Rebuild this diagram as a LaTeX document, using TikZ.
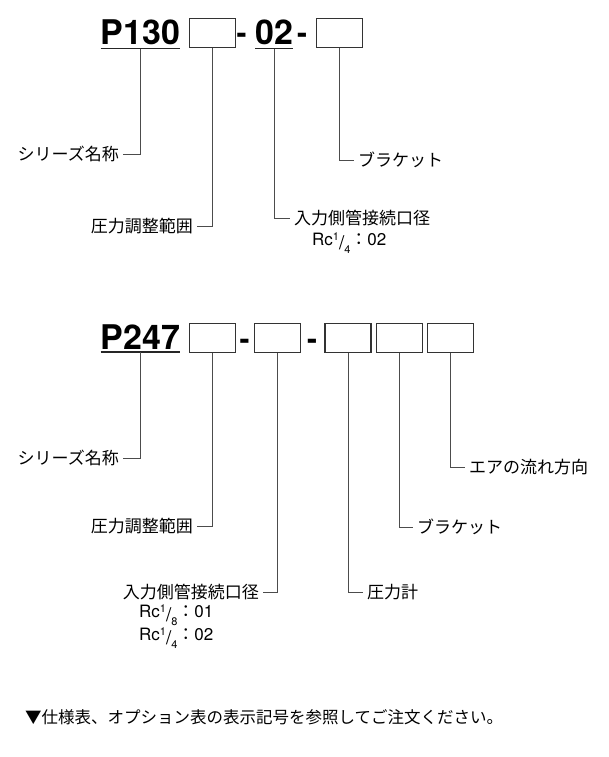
\documentclass[tikz,border=0pt]{standalone}
\usepackage{fontspec}
\setmainfont{TeX Gyre Heros}
\newfontfamily\jp{Noto Sans CJK JP}
\newcommand{\myfrac}[2]{{\fontsize{11}{11}\selectfont\raisebox{5pt}{#1}}\raisebox{-4pt}{\fontsize{19}{19}\selectfont/}{\fontsize{11}{11}\selectfont\raisebox{-8pt}{#2}}}
\tikzset{
  code/.style={font=\fontsize{34}{34}\selectfont\bfseries, inner xsep=0pt, inner ysep=3pt, anchor=base west},
  uline/.style={line width=1.5pt, draw=black!85},
  slot/.style={draw=black!80, line width=1.2pt, minimum width=46pt, minimum height=29pt, inner sep=0pt},
  hyph/.style={font=\fontsize{30}{30}\selectfont\bfseries, inner sep=0pt, anchor=base},
  lbl/.style={font=\jp\fontsize{17}{17}\selectfont, inner xsep=4pt, inner ysep=0pt},
  rc/.style={font=\fontsize{17}{17}\selectfont, inner sep=0pt, anchor=base west},
  conn/.style={draw=black!70, line width=0.9pt},
}
\begin{document}
\begin{tikzpicture}[x=1pt,y=-1pt]
\fill[white] (0,0) rectangle (608,757);
\useasboundingbox (0,0) rectangle (608,757);

% ---------- top row ----------
\node[code] (p130) at (100.5,45) {P130};
\draw[uline] (p130.south west) -- (p130.south east);
\node[slot] (t1) at (212.5,33) {};
\node[hyph] (td1) at (241.5,44) {-};
\node[code] (t02) at (255,45) {02};
\draw[uline] (t02.south west) -- (t02.south east);
\node[hyph] (td2) at (302,44) {-};
\node[slot] (t2) at (339.5,33) {};

\node[lbl, anchor=east] (tsr) at (123,154) {シリーズ名称};
\node[lbl, anchor=east] (tpr) at (197,226) {圧力調整範囲};
\node[lbl, anchor=west] (tin) at (290,218) {入力側管接続口径};
\node[rc] (trc) at (312,245) {Rc\myfrac{1}{4}{\jp：}02};
\node[lbl, anchor=west] (tbr) at (354,160) {ブラケット};

\draw[conn] (p130.south) |- (tsr.east);
\draw[conn] (t1.south) |- (tpr.east);
\draw[conn] (t02.south) |- (tin.west);
\draw[conn] (t2.south) |- (tbr.west);

% ---------- bottom row ----------
\node[code] (p247) at (100.5,349) {P247};
\draw[uline] (p247.south west) -- (p247.south east);
\node[slot] (b1) at (212.5,338) {};
\node[hyph] (bd1) at (244.5,349) {-};
\node[slot] (b2) at (277.5,338) {};
\node[hyph] (bd2) at (312,349) {-};
\node[slot] (b3) at (348,338) {};
\node[slot] (b4) at (399.5,338) {};
\node[slot] (b5) at (450.5,338) {};

\node[lbl, anchor=east] (bsr) at (123,458) {シリーズ名称};
\node[lbl, anchor=east] (bpr) at (197,526) {圧力調整範囲};
\node[lbl, anchor=east] (bin) at (263,592) {入力側管接続口径};
\node[rc] (brc1) at (139,617) {Rc\myfrac{1}{8}{\jp：}01};
\node[rc] (brc2) at (139,640) {Rc\myfrac{1}{4}{\jp：}02};
\node[lbl, anchor=west] (bga) at (363,592) {圧力計};
\node[lbl, anchor=west] (bbr) at (413,527) {ブラケット};
\node[lbl, anchor=west] (bair) at (465,467) {エアの流れ方向};

\draw[conn] (p247.south) |- (bsr.east);
\draw[conn] (b1.south) |- (bpr.east);
\draw[conn] (b2.south) |- (bin.east);
\draw[conn] (b3.south) |- (bga.west);
\draw[conn] (b4.south) |- (bbr.west);
\draw[conn] (b5.south) |- (bair.west);

% ---------- note ----------
\node[lbl, anchor=west, inner xsep=0pt, font=\jp\fontsize{16.5}{16.5}\selectfont] (note) at (25,717) {▼仕様表、オプション表の表示記号を参照してご注文ください。};
\end{tikzpicture}
\end{document}
